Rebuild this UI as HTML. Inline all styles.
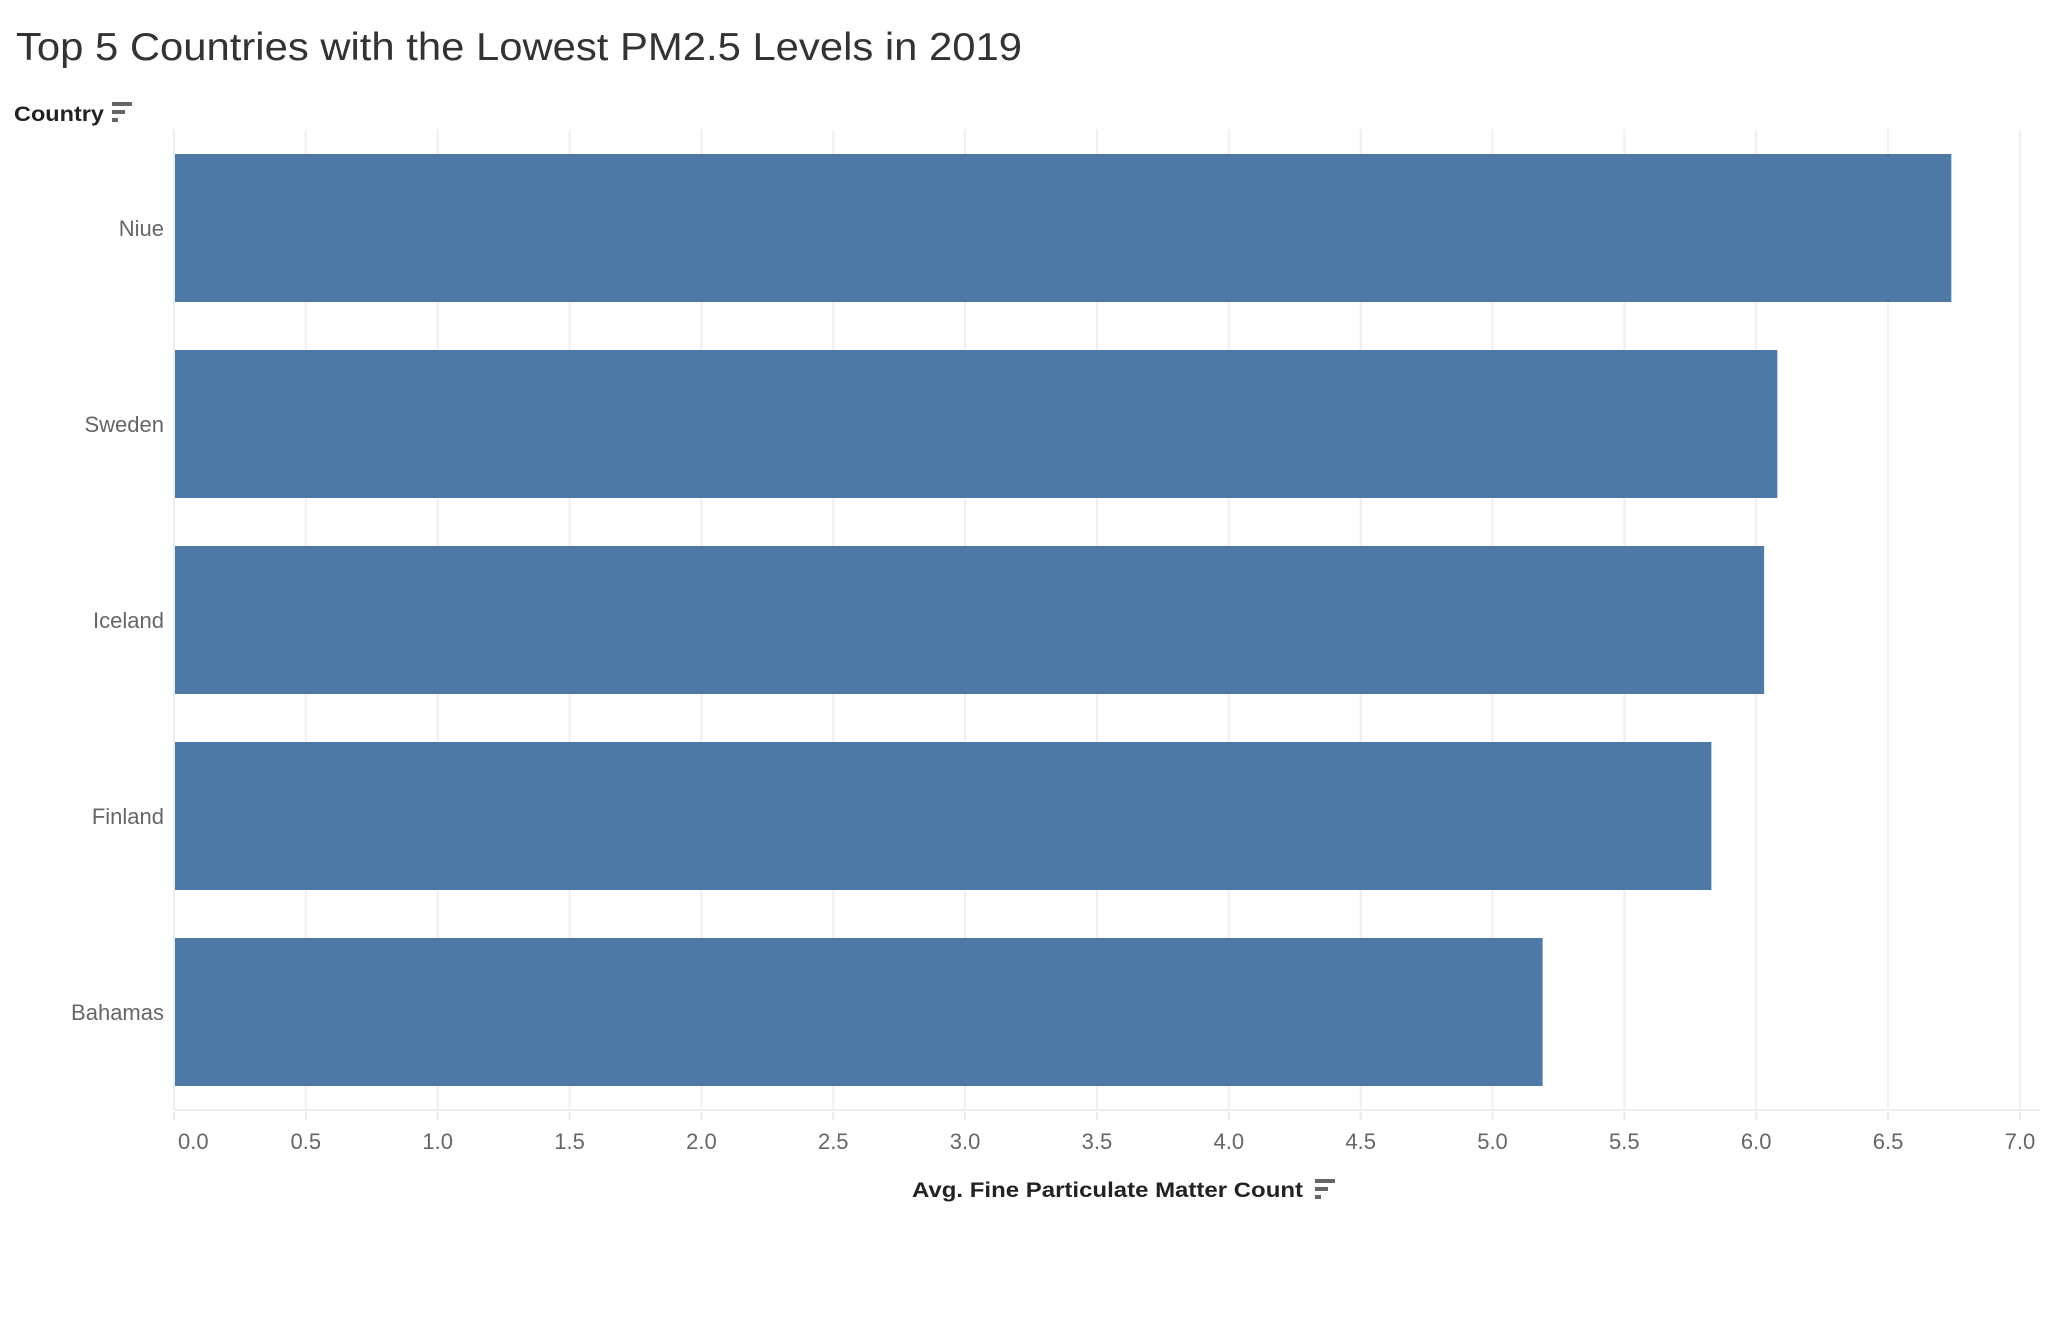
<!DOCTYPE html>
<html><head><meta charset="utf-8"><style>
html,body{margin:0;padding:0;background:#fff;}
svg{display:block;font-family:"Liberation Sans",sans-serif;}
</style></head><body>
<svg id="chart" width="2058" height="1340" viewBox="0 0 2058 1340">
<text x="16" y="60" font-size="39" fill="#333" textLength="1006" lengthAdjust="spacingAndGlyphs">Top 5 Countries with the Lowest PM2.5 Levels in 2019</text>
<g>
<text x="14" y="121" font-size="21" fill="#222" font-weight="bold" textLength="90" lengthAdjust="spacingAndGlyphs">Country</text>
<g fill="#666"><rect x="112" y="102" width="20" height="4"/><rect x="112" y="110" width="13" height="4"/><rect x="112" y="118" width="6" height="4"/></g>
</g>
<g id="grid"></g>
<g id="bars"></g>
<g id="ylabels"></g>
<g id="xaxis"></g>
<g>
<text x="1303" y="1197" font-size="21" fill="#222" font-weight="bold" text-anchor="end" textLength="391" lengthAdjust="spacingAndGlyphs">Avg. Fine Particulate Matter Count</text>
<g fill="#666"><rect x="1315" y="1179" width="20" height="4"/><rect x="1315" y="1187" width="13" height="4"/><rect x="1315" y="1195" width="6" height="4"/></g>
</g>
</svg>
<script>
const categories = ["Niue","Sweden","Iceland","Finland","Bahamas"];
const values = [6.74, 6.08, 6.03, 5.83, 5.19];
const ticks = [0,0.5,1,1.5,2,2.5,3,3.5,4,4.5,5,5.5,6,6.5,7];
const tickLabels = ["0.0","0.5","1.0","1.5","2.0","2.5","3.0","3.5","4.0","4.5","5.0","5.5","6.0","6.5","7.0"];

const NS="http://www.w3.org/2000/svg";
const x0=174, unit=263.7, plotTop=129, axisY=1110, rowTop=154, pitch=196, barH=148;
const xs=v=>x0+v*unit;
const ys=i=>rowTop+i*pitch;
function mk(tag,attrs,parent){const e=document.createElementNS(NS,tag);for(const k in attrs)e.setAttribute(k,attrs[k]);parent.appendChild(e);return e;}
const grid=document.getElementById('grid'),bars=document.getElementById('bars'),yl=document.getElementById('ylabels'),xa=document.getElementById('xaxis');

ticks.forEach((t,i)=>{
  const x=xs(t);
  const g=mk('line',{x1:x,x2:x,y1:plotTop,y2:axisY,stroke:'#efefef','stroke-width':2},grid);
  
  
  const tk=mk('line',{x1:x,x2:x,y1:axisY+2,y2:axisY+10,stroke:'#eaeaea','stroke-width':2},xa);
  
  
  const lab=mk('text',{x:i===0?x+4:x,y:1149,'font-size':22,fill:'#666','text-anchor':i===0?'start':'middle'},xa);
  lab.textContent=tickLabels[i];
  
  
});
const ax=mk('line',{x1:x0,x2:2040,y1:axisY,y2:axisY,stroke:'#eeeeee','stroke-width':2},xa);


const yax=mk('line',{x1:x0,x2:x0,y1:plotTop,y2:axisY,stroke:'#eeeeee','stroke-width':2},grid);



categories.forEach((c,i)=>{
  const r=mk('rect',{x:x0+1,y:ys(i),width:xs(values[i])-x0-1,height:barH,fill:'#4e79a7'},bars);
  
  
  const t=mk('text',{x:164,y:ys(i)+barH/2+8,'font-size':22,fill:'#666','text-anchor':'end'},yl);
  t.textContent=c;
  
  
});
</script>
</body></html>
